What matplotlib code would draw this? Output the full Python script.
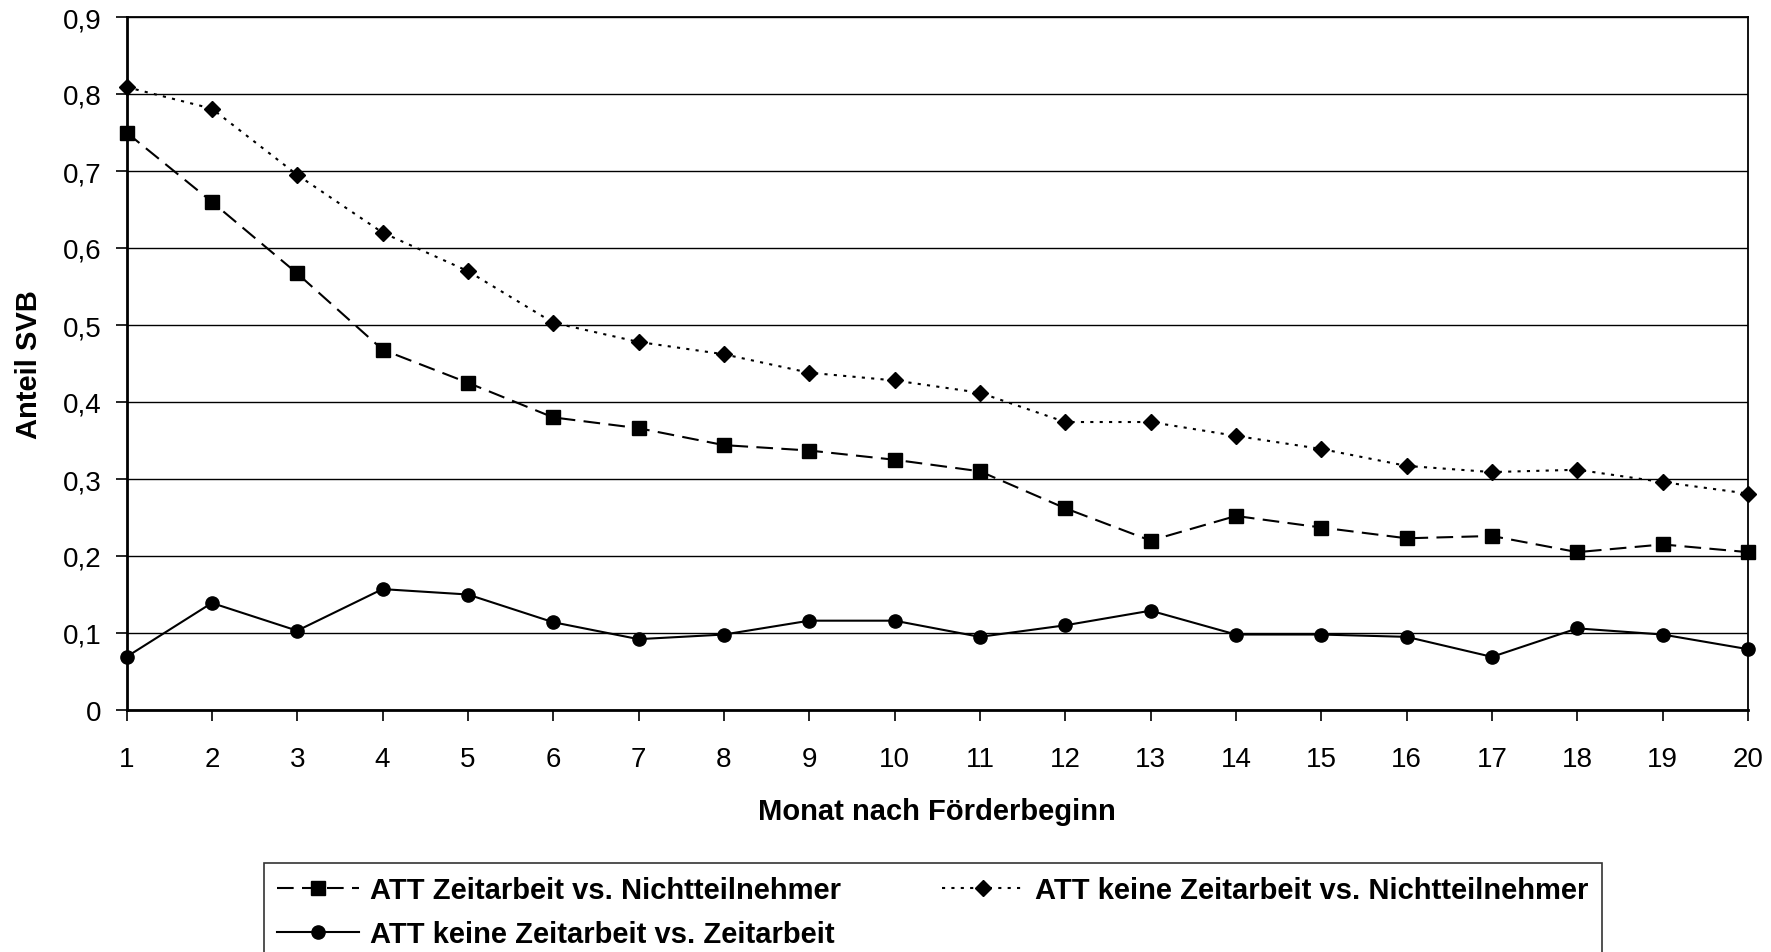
import matplotlib
matplotlib.use("Agg")
import matplotlib.pyplot as plt

months = list(range(1, 21))
att_za_nt = [0.75, 0.66, 0.567, 0.468, 0.425, 0.38, 0.366, 0.344, 0.337, 0.325,
             0.31, 0.262, 0.22, 0.252, 0.237, 0.223, 0.226, 0.205, 0.215, 0.205]
att_kza_nt = [0.809, 0.781, 0.695, 0.62, 0.57, 0.503, 0.478, 0.462, 0.438, 0.428,
              0.412, 0.374, 0.374, 0.356, 0.339, 0.317, 0.309, 0.312, 0.296, 0.281]
att_kza_za = [0.069, 0.139, 0.103, 0.157, 0.15, 0.114, 0.092, 0.098, 0.116, 0.116,
              0.095, 0.11, 0.129, 0.098, 0.098, 0.095, 0.069, 0.106, 0.098, 0.079]
labels = ["ATT Zeitarbeit vs. Nichtteilnehmer",
          "ATT keine Zeitarbeit vs. Nichtteilnehmer",
          "ATT keine Zeitarbeit vs. Zeitarbeit"]
yticks = [0, 0.1, 0.2, 0.3, 0.4, 0.5, 0.6, 0.7, 0.8, 0.9]
ytick_labels = ["0", "0,1", "0,2", "0,3", "0,4", "0,5", "0,6", "0,7", "0,8", "0,9"]

plt.rcParams['font.family'] = ['Liberation Sans', 'DejaVu Sans']

W, H = 1771, 953
fig = plt.figure(figsize=(W / 100, H / 100), dpi=100)
ax = fig.add_axes([126.5 / W, 1 - 711 / H, (1748 - 126.5) / W, (711 - 18) / H])

l1, = ax.plot(months, att_za_nt, color='black', lw=1.5, ls=(0, (8, 4)), marker='s', ms=9.5,
              label=labels[0], clip_on=False, zorder=3)
l2, = ax.plot(months, att_kza_nt, color='black', lw=1.5, ls=(0, (1.5, 3)), marker='D', ms=8.5,
              label=labels[1], clip_on=False, zorder=3)
l3, = ax.plot(months, att_kza_za, color='black', lw=1.5, ls='-', marker='o', ms=9.5,
              label=labels[2], clip_on=False, zorder=3)

ax.set_xlim(1, 20)
ax.set_ylim(0, 0.9)
ax.set_xticks(months)
ax.set_xticklabels([str(m) for m in months])
ax.set_yticks(yticks)
ax.set_yticklabels(ytick_labels)
ax.yaxis.grid(True, color='black', lw=1.0)
ax.set_axisbelow(True)
ax.tick_params(axis='both', direction='out', length=8, width=1.2, labelsize=20, colors='black')
ax.tick_params(axis='x', pad=18)
ax.tick_params(axis='y', pad=10)
for s in ax.spines.values():
    s.set_linewidth(1.3)
ax.spines['left'].set_linewidth(2)
ax.spines['bottom'].set_linewidth(2)

ax.set_ylabel("Anteil SVB", fontsize=21, fontweight='bold', labelpad=14)
ax.set_xlabel("Monat nach Förderbeginn", fontsize=21, fontweight='bold', labelpad=18)

leg = fig.legend(handles=[l1, l3, l2], labels=[labels[0], labels[2], labels[1]],
                 loc='upper left', bbox_to_anchor=(264 / W, 1 - 864 / H), ncol=2,
                 prop={'weight': 'bold', 'size': 21},
                 frameon=True, fancybox=False, edgecolor='black', handlelength=2.8,
                 columnspacing=3.45, borderpad=0.45, labelspacing=0.55, handletextpad=0.4,
                 borderaxespad=0)
leg.get_frame().set_linewidth(1.2)

fig.savefig("out.png", dpi=100)
